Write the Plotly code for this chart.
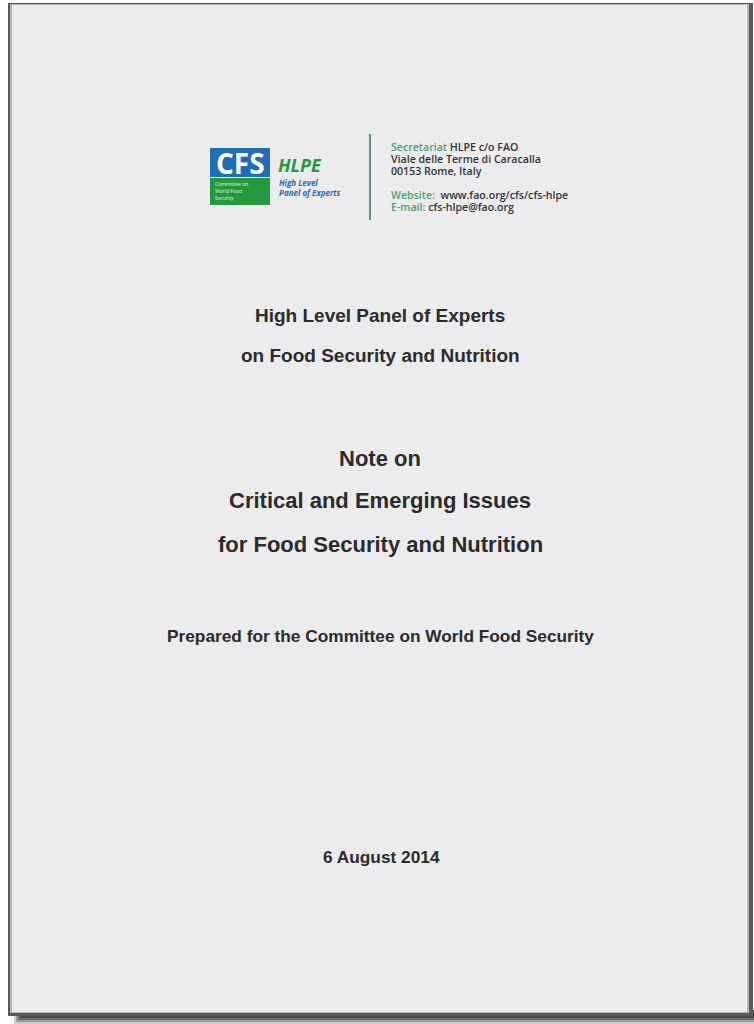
import plotly.graph_objects as go

# ---- content ----
title_lines = ["High Level Panel of Experts", "on Food Security and Nutrition"]
note_lines = ["Note on", "Critical and Emerging Issues", "for Food Security and Nutrition"]
prepared_line = "Prepared for the Committee on World Food Security"
date_line = "6 August 2014"
logo_cfs = "CFS"
logo_cfs_small = ["Committee on", "World Food", "Security"]
logo_hlpe = "HLPE"
logo_hlpe_small = ["High Level", "Panel of Experts"]
contact_prefix = ["Secretariat", "", "", "Website:", "E-mail:"]
contact_text = [" HLPE c/o FAO", "Viale delle Terme di Caracalla", "00153 Rome, Italy",
                "  www.fao.org/cfs/cfs-hlpe", " cfs-hlpe@fao.org"]

# ---- layout positions (pixels in the window) ----
title_y = [315, 355]
note_y = [458, 500, 544]
prepared_y = 636
date_y = 857
contact_y = [147, 159, 171, 195, 207]
cfs_small_y = [184, 191, 198]
hlpe_small_y = [182, 192]

W, H = 754, 1024
TXT = "#2b2b2b"
BLUE = "#1f6db4"
GREEN = "#23983c"

fig = go.Figure()

shapes = []
# shadow below page
for i, op in enumerate([0.25, 0.35, 0.5, 0.7]):
    shapes.append(dict(type="rect", x0=14 + i * 2, x1=754, y0=1010, y1=1024 - i * 2,
                       fillcolor="#3a3a3a", opacity=op, line_width=0, layer="below"))
# page edges (dark frame)
shapes.append(dict(type="rect", x0=8, x1=753, y0=3, y1=1016,
                   fillcolor="#5a5a5a", line_width=0, layer="below"))
shapes.append(dict(type="rect", x0=10, x1=749, y0=4, y1=1013,
                   fillcolor="#b5b5b5", line_width=0, layer="below"))
shapes.append(dict(type="rect", x0=12, x1=747, y0=5, y1=1012,
                   fillcolor="#ecebed", line_width=0, layer="below"))
# CFS logo blocks
shapes.append(dict(type="rect", x0=210, x1=270, y0=148, y1=177,
                   fillcolor=BLUE, line_width=0))
shapes.append(dict(type="rect", x0=210, x1=270, y0=178, y1=205,
                   fillcolor=GREEN, line_width=0))
# vertical separator
shapes.append(dict(type="line", x0=370, x1=370, y0=134, y1=220,
                   line=dict(color="#5f8c84", width=2)))

ann = []
def add(text, x, y, size, color=TXT, family="Liberation Sans, Arial, sans-serif",
        xanchor="center", weight="bold", style="normal"):
    ann.append(dict(text=text, x=x, y=y, xref="x", yref="y", showarrow=False,
                    xanchor=xanchor, yanchor="middle",
                    font=dict(size=size, color=color, family=family, weight=weight, style=style)))

for t, y in zip(title_lines, title_y):
    add(t, 380, y, 19)
for t, y in zip(note_lines, note_y):
    add(t, 380, y, 22)
add(prepared_line, 380, prepared_y, 17.3)
add(date_line, 381, date_y, 17.3)

# logo text
add(logo_cfs, 240, 163, 28, color="white", family="Open Sans, sans-serif")
for t, y in zip(logo_cfs_small, cfs_small_y):
    add(t, 213, y, 5, color="#e8f4e8", family="Open Sans, sans-serif", xanchor="left", weight="normal")
add(logo_hlpe, 276, 165, 18, color=GREEN, family="Open Sans, sans-serif", xanchor="left", style="italic")
for t, y in zip(logo_hlpe_small, hlpe_small_y):
    add(t, 277, y, 8, color=BLUE, family="Open Sans, sans-serif", xanchor="left", style="italic")

for p, t, y in zip(contact_prefix, contact_text, contact_y):
    txt = (f"<span style='color:#4aa36a'>{p}</span>" if p else "") + t
    add(txt, 389, y, 10.6, color="#333333", family="Open Sans, sans-serif", xanchor="left", weight=600)

fig.update_layout(
    width=W, height=H, margin=dict(l=0, r=0, t=0, b=0),
    paper_bgcolor="white", plot_bgcolor="white",
    xaxis=dict(range=[0, W], visible=False, fixedrange=True),
    yaxis=dict(range=[H, 0], visible=False, fixedrange=True),
    shapes=shapes, annotations=ann, showlegend=False,
)
fig.write_html("out.html", config={"displayModeBar": False},
               post_script="document.body.style.margin='0';document.body.style.overflow='hidden';")
